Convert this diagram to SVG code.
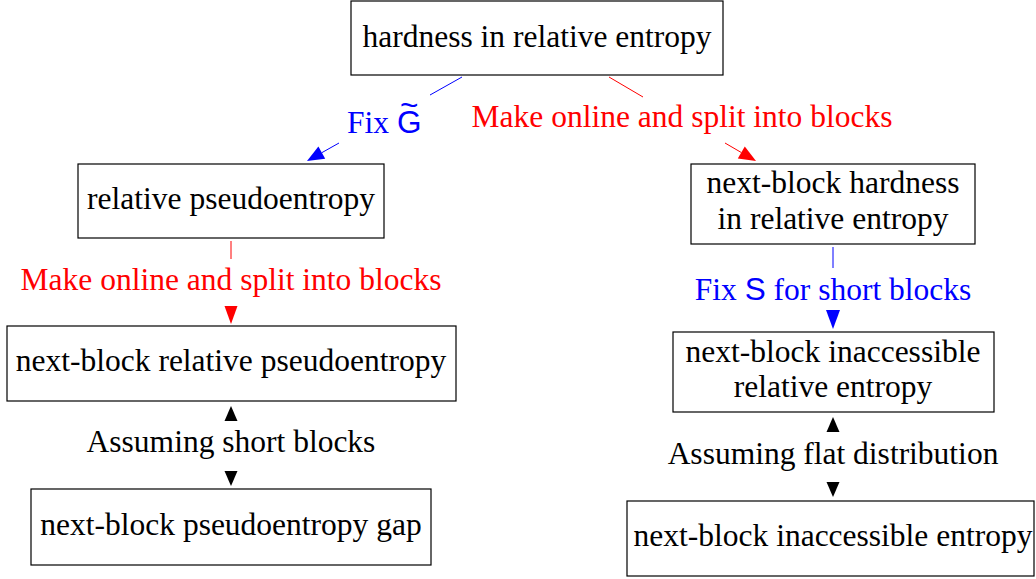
<svg xmlns="http://www.w3.org/2000/svg" width="1036" height="579" viewBox="0 0 1036 579">
<style>
.box{fill:#fff;stroke:#000;stroke-width:1.2}
.lb{stroke:#0000ff;stroke-width:1}
.lr{stroke:#ff0000;stroke-width:1}
</style>
<g id="n1">
<rect class="box" x="351" y="1" width="372" height="74"/>
<text font-family="Liberation Serif, serif" font-size="31.5" fill="#000" text-anchor="middle" x="537" y="47">hardness in relative entropy</text>
</g>
<g id="n2">
<rect class="box" x="78" y="164" width="306" height="74"/>
<text font-family="Liberation Serif, serif" font-size="31.5" fill="#000" text-anchor="middle" x="231" y="209">relative pseudoentropy</text>
</g>
<g id="n3">
<rect class="box" x="691" y="164" width="284" height="80"/>
<text font-family="Liberation Serif, serif" font-size="31.5" fill="#000" text-anchor="middle" x="833" y="193">next-block hardness</text>
<text font-family="Liberation Serif, serif" font-size="31.5" fill="#000" text-anchor="middle" x="833" y="229">in relative entropy</text>
</g>
<g id="n4">
<rect class="box" x="7" y="326" width="449" height="75"/>
<text font-family="Liberation Serif, serif" font-size="31.5" fill="#000" text-anchor="middle" x="231" y="371">next-block relative pseudoentropy</text>
</g>
<g id="n5">
<rect class="box" x="31" y="489" width="400" height="76"/>
<text font-family="Liberation Serif, serif" font-size="31.5" fill="#000" text-anchor="middle" x="231" y="535">next-block pseudoentropy gap</text>
</g>
<g id="n6">
<rect class="box" x="673" y="332" width="321" height="80"/>
<text font-family="Liberation Serif, serif" font-size="31.5" fill="#000" text-anchor="middle" x="833" y="362">next-block inaccessible</text>
<text font-family="Liberation Serif, serif" font-size="31.5" fill="#000" text-anchor="middle" x="833" y="397">relative entropy</text>
</g>
<g id="n7">
<rect class="box" x="627" y="501" width="407" height="75"/>
<text font-family="Liberation Serif, serif" font-size="31.5" fill="#000" text-anchor="middle" x="833" y="546">next-block inaccessible entropy</text>
</g>
<g id="connectors">
<line class="lb" x1="462" y1="77" x2="430" y2="95"/>
<line class="lb" x1="339" y1="143" x2="321.8" y2="152.7"/>
<polygon points="307,161 325.2,158.8 318.4,146.6" fill="#0000ff"/>
<line class="lr" x1="609" y1="77" x2="643" y2="97"/>
<line class="lr" x1="725" y1="143" x2="741.3" y2="152.5"/>
<polygon points="756,161 737.8,158.6 744.8,146.4" fill="#ff0000"/>
<line class="lr" x1="231" y1="241" x2="231" y2="259"/>
<polygon points="231,324 224.5,306 237.5,306" fill="#ff0000"/>
<line class="lb" x1="833" y1="247" x2="833" y2="268"/>
<polygon points="833,329 826,310 840,310" fill="#0000ff"/>
<polygon points="231,406 224.5,421 237.5,421" fill="#000"/>
<polygon points="231,486 224.5,471 237.5,471" fill="#000"/>
<polygon points="833,417 826.5,432 839.5,432" fill="#000"/>
<polygon points="833,497 826.5,482 839.5,482" fill="#000"/>
<text font-family="Liberation Serif, serif" font-size="31.5" fill="#0000ff" x="347" y="133">Fix <tspan font-family="Liberation Sans, sans-serif">G</tspan><tspan font-family="Liberation Sans, sans-serif" dx="-21.5" dy="-17">~</tspan></text>
<text font-family="Liberation Serif, serif" font-size="31.5" fill="#ff0000" text-anchor="middle" x="682" y="127">Make online and split into blocks</text>
<text font-family="Liberation Serif, serif" font-size="31.5" fill="#ff0000" text-anchor="middle" x="231" y="290">Make online and split into blocks</text>
<text font-family="Liberation Serif, serif" font-size="31.5" fill="#0000ff" text-anchor="middle" x="833" y="300">Fix <tspan font-family="Liberation Sans, sans-serif">S</tspan> for short blocks</text>
<text font-family="Liberation Serif, serif" font-size="31.5" fill="#000" text-anchor="middle" x="231" y="452">Assuming short blocks</text>
<text font-family="Liberation Serif, serif" font-size="31.5" fill="#000" text-anchor="middle" x="833" y="464">Assuming flat distribution</text>
</g>
</svg>
